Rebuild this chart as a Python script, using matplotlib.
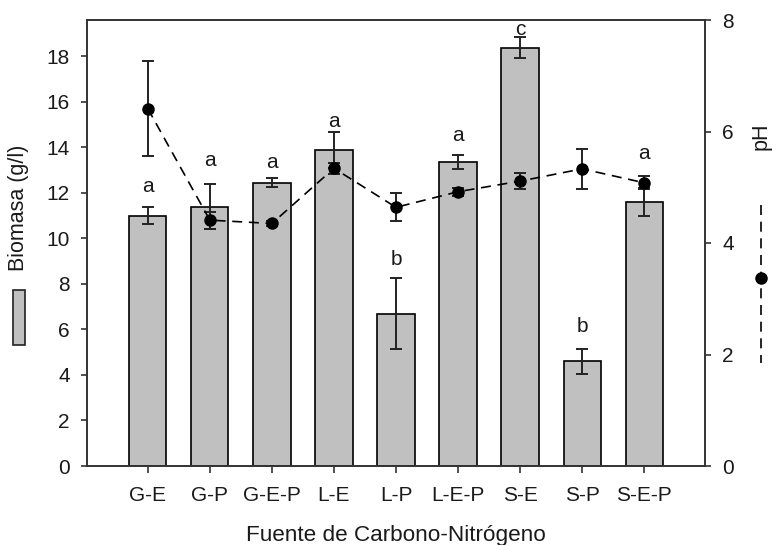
import matplotlib
matplotlib.use("Agg")
import matplotlib.pyplot as plt
from matplotlib.lines import Line2D
from matplotlib.patches import Rectangle
import numpy as np

plt.rcParams['font.family'] = ['Liberation Sans', 'DejaVu Sans']

categories = ["G-E", "G-P", "G-E-P", "L-E", "L-P", "L-E-P", "S-E", "S-P", "S-E-P"]
biomasa = [11.0, 11.4, 12.45, 13.9, 6.7, 13.37, 18.38, 4.6, 11.6]
biomasa_err = [0.37, 1.0, 0.2, 0.8, 1.55, 0.3, 0.47, 0.55, 0.6]
ph = [6.41, 4.41, 4.35, 5.34, 4.64, 4.92, 5.11, 5.33, 5.08]
ph_err = [0.85, 0.15, 0.05, 0.1, 0.25, 0.07, 0.15, 0.36, 0.12]
letters = ["a", "a", "a", "a", "b", "a", "c", "b", "a"]
letter_y = [12.28, 13.42, 13.33, 15.14, 9.07, 14.52, 19.2, 6.13, 13.72]

TXT = "#1a1a1a"
fig = plt.figure(figsize=(7.76, 5.45), dpi=100)
ax = fig.add_axes([87/776, 79/545, (705-87)/776, (466-20)/545])
x = np.arange(len(categories))

ax.bar(x, biomasa, width=0.6, color="#c0c0c0", edgecolor="black", linewidth=1.2, zorder=2)
ax.errorbar(x, biomasa, yerr=biomasa_err, fmt="none", ecolor="#222222",
            elinewidth=1.4, capsize=4.5, capthick=1.4, zorder=3)
for xi, lab, ly in zip(x, letters, letter_y):
    ax.text(xi, ly, lab, ha="center", va="center", fontsize=15, color=TXT)

ax.set_xlim(-0.98, 8.98)
ax.set_ylim(0, 19.6)
ax.set_yticks(range(0, 19, 2))
ax.set_xticks(x)
ax.set_xticklabels(categories)
ax.tick_params(axis="both", labelsize=15, direction="out", length=4.5, width=1.2,
               colors="#333333", labelcolor=TXT, pad=8)
ax.tick_params(axis="x", length=5, pad=9.5)
ax.set_xlabel("Fuente de Carbono-Nitrógeno", fontsize=16.2, labelpad=14, color=TXT)
for s in ax.spines.values():
    s.set_linewidth(1.2)
    s.set_color("#333333")

ax2 = ax.twinx()
ax2.errorbar(x, ph, yerr=ph_err, fmt="o", color="black", ecolor="#222222",
             markersize=8, elinewidth=1.4, capsize=4.5, capthick=1.4,
             linestyle=(0, (6, 4)), linewidth=1.2, zorder=4)
ax2.set_ylim(0, 8)
ax2.set_yticks([0, 2, 4, 6, 8])
ax2.tick_params(axis="y", labelsize=15, direction="out", length=4.5, width=1.2,
                colors="#333333", labelcolor=TXT, pad=8)
for s in ax2.spines.values():
    s.set_linewidth(1.2)
    s.set_color("#333333")

# left legend-style label
fig.text(19/776, 1 - 208/545, "Biomasa (g/l)", rotation=90, ha="center", va="center",
         fontsize=15.5, color=TXT)
fig.patches.append(Rectangle((13/776, 1 - 345/545), 12/776, 55/545, transform=fig.transFigure,
                             facecolor="#c0c0c0", edgecolor="#222222", linewidth=1.2))
# right legend-style label
fig.text(761/776, 1 - 136/545, "pH", rotation=90, ha="center", va="center",
         fontsize=15.5, color=TXT)
fig.lines.append(Line2D([761/776, 761/776], [1 - 205/545, 1 - 363/545], transform=fig.transFigure,
                        color="black", linewidth=1.2, linestyle=(0, (6, 4))))
fig.lines.append(Line2D([761/776], [1 - 278/545], transform=fig.transFigure,
                        color="black", marker="o", markersize=8, linestyle="none"))

fig.savefig("out.png", dpi=100)
